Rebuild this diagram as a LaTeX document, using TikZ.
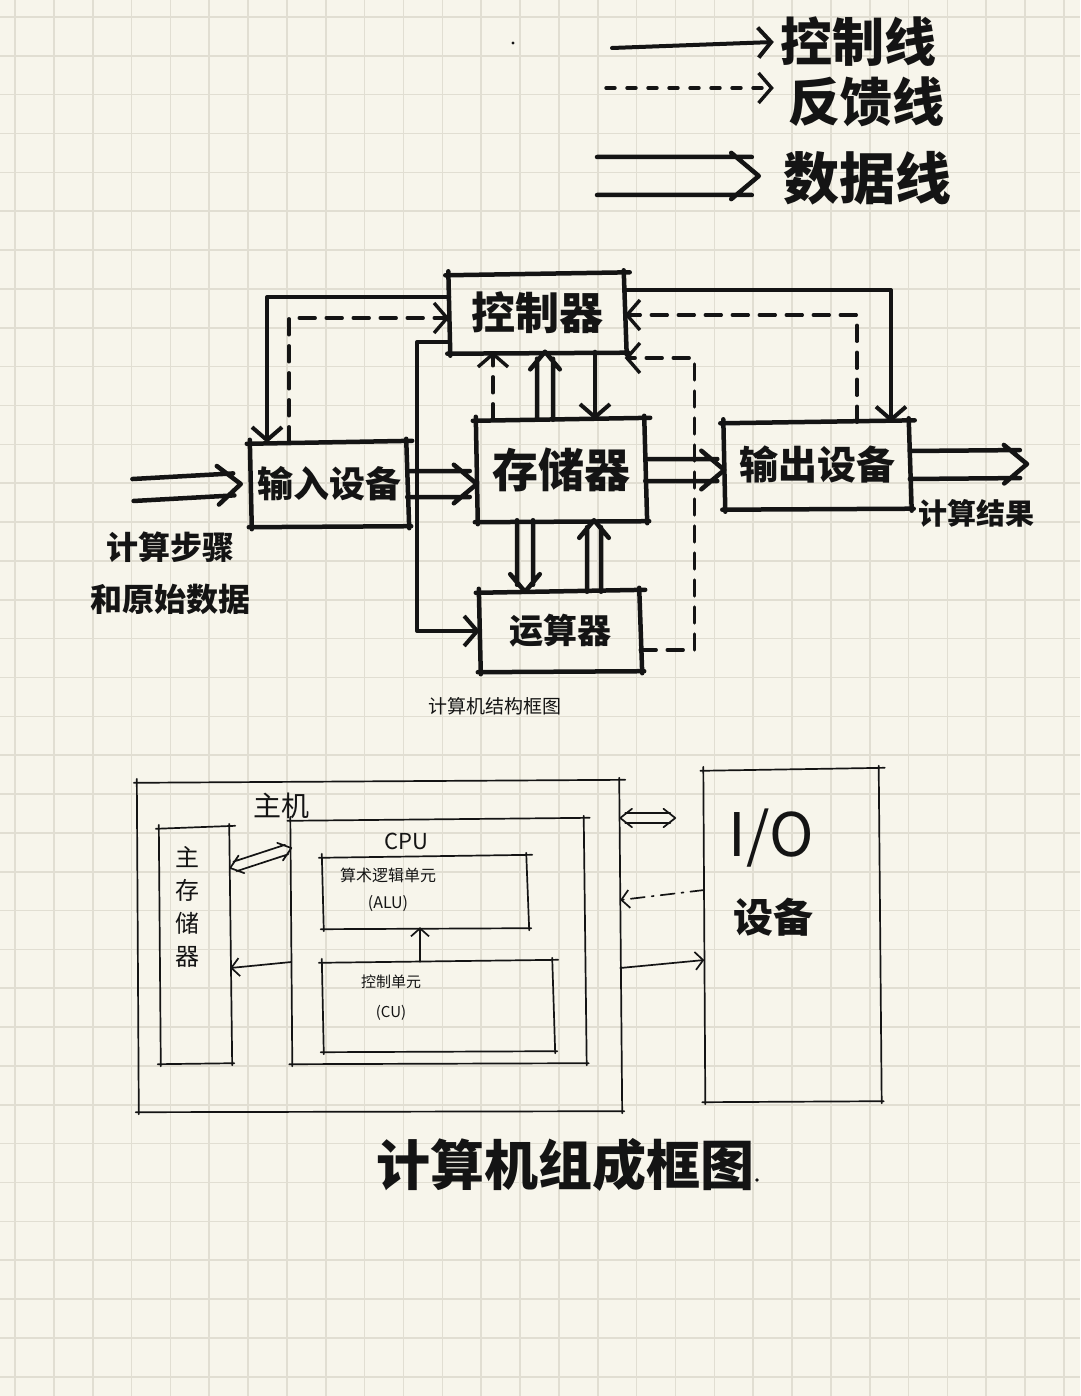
\documentclass[tikz,border=0pt]{standalone}
\usepackage{fontspec}
\newfontfamily\cjk{Noto Sans CJK SC}
\usetikzlibrary{calc,arrows.meta}
\definecolor{paper}{HTML}{F7F5EB}
\definecolor{gridc}{HTML}{E1DED2}
\definecolor{ink}{HTML}{141414}
\newcommand\fsz[2]{\fontsize{#1}{#2}\selectfont}

\tikzset{
  every node/.style={inner sep=0pt, text=ink},
  da head/.store in=\dahead, da head=30pt,
  inkthick/.style={draw=ink, line width=4.5pt, line cap=round, line join=round},
  inkfine/.style={draw=ink, line width=1.7pt, line cap=round, line join=round},
  % single control line with open head
  ctl/.style={inkthick, line width=4pt, -{Straight Barb[length=13pt,width=30pt]}},
  % feedback line, dashed
  fb/.style={inkthick, line width=3.4pt, dash pattern=on 16pt off 11pt,
             -{Straight Barb[length=13pt,width=30pt]}},
  finearrow/.style={inkfine, -{Straight Barb[length=8pt,width=18pt]}},
  finedash/.style={inkfine, dash pattern=on 14pt off 7pt on 2pt off 7pt,
             -{Straight Barb[length=8pt,width=18pt]}},
  % two parallel strokes ending in an open head
  dataarrow/.style={to path={
      ($(\tikztotarget)!7pt!(\tikztostart)$) coordinate (dae)
      ($(\tikztostart)!#1!90:(\tikztotarget)$) -- ($(dae)!#1!-90:(\tikztostart)$)
      ($(\tikztostart)!#1!-90:(\tikztotarget)$) -- ($(dae)!#1!90:(\tikztostart)$)
      ($(\tikztotarget)!\dahead!40:(\tikztostart)$) -- (\tikztotarget)
        -- ($(\tikztotarget)!\dahead!-40:(\tikztostart)$)
  }},
  dataarrow/.default=11pt,
  % two parallel strokes with open heads at both ends
  databoth/.style={to path={
      ($(\tikztostart)!5pt!(\tikztotarget)$) coordinate (dbs)
      ($(\tikztotarget)!5pt!(\tikztostart)$) coordinate (dbe)
      ($(dbs)!#1!90:(dbe)$) -- ($(dbe)!#1!-90:(dbs)$)
      ($(dbs)!#1!-90:(dbe)$) -- ($(dbe)!#1!90:(dbs)$)
      ($(\tikztotarget)!\dahead!38:(\tikztostart)$) -- (\tikztotarget)
        -- ($(\tikztotarget)!\dahead!-38:(\tikztostart)$)
      ($(\tikztostart)!\dahead!38:(\tikztotarget)$) -- (\tikztostart)
        -- ($(\tikztostart)!\dahead!-38:(\tikztotarget)$)
  }},
  databoth/.default=5pt,
  % box drawn as four loose pen strokes
  sketchbox/.style={append after command={
      ($(\tikzlastnode.north west)+(-4,1)$) edge[#1] ($(\tikzlastnode.north east)+(5,-2)$)
      ($(\tikzlastnode.north east)+(-1,-4)$) edge[#1] ($(\tikzlastnode.south east)+(2,3)$)
      ($(\tikzlastnode.south east)+(4,1)$) edge[#1] ($(\tikzlastnode.south west)+(-2,2)$)
      ($(\tikzlastnode.south west)+(1,4)$) edge[#1] ($(\tikzlastnode.north west)+(-1,-3)$)
  }},
  tbox/.style={sketchbox=inkthick},
  bbox/.style={sketchbox=inkfine},
  bold/.style={font={\cjk\bfseries\fsz{#1}{#1}}},
  light/.style={font={\cjk\fsz{#1}{#1}}},
}

\begin{document}
\begin{tikzpicture}[x=1pt,y=-1pt]
\useasboundingbox (0,0) rectangle (1080,1396);

% grid paper
\fill[paper] (0,0) rectangle (1080,1396);
\foreach \i in {0,...,27}
  \draw[gridc, line width=1.6pt] ({15+38.85*\i},0) -- ({15+38.85*\i},1396);
\foreach \j in {0,...,35}
  \draw[gridc, line width=1.6pt] (0,{17+38.85*\j}) -- (1080,{17+38.85*\j});

% ---------- legend ----------
\node[bold=52] (lgctl) at (858,42) {控制线};
\node[bold=52] (lgfb)  at (866,102) {反馈线};
\node[bold=56] (lgdat) at (867,178) {数据线};
\coordinate (lgs1) at (612,48);
\coordinate (lgs2) at (606,88);
\coordinate (lgs3) at (597,176);
\draw[ctl] (lgs1) -- ([xshift=-6pt]lgctl.west);
\draw[fb, dash pattern=on 9pt off 12pt] (lgs2) -- ([xshift=-14pt]lgfb.west |- lgs2);
\draw[inkthick, da head=36pt] (lgs3) to[dataarrow=19pt] ([xshift=-24pt]lgdat.west |- lgs3);
\fill[ink] (513,43) circle (1.6);

% ---------- structure diagram ----------
\node[tbox, bold=44, minimum width=175pt, minimum height=77pt]  (ctrl) at (537,313) {控制器};
\node[tbox, bold=36, minimum width=156pt, minimum height=82pt]  (in)   at (329,484) {输入设备};
\node[tbox, bold=46, minimum width=168pt, minimum height=100pt] (mem)  at (561,470) {存储器};
\node[tbox, bold=39, minimum width=185pt, minimum height=85pt]  (out)  at (817,465) {输出设备};
\node[tbox, bold=34, minimum width=160pt, minimum height=78pt]  (alu)  at (560,631) {运算器};

\node[align=center, font={\cjk\bfseries\fsz{32}{52}}] (srclbl) at (170,573) {计算步骤\\和原始数据};
\node[bold=29] (reslbl) at (976,513) {计算结果};
\node[light=19] (cap1) at (495,706) {计算机结构框图};

% data flow
\coordinate (srcpt) at (133,490);
\coordinate (respt) at (1027,464);
\draw[inkthick] (srcpt) to[dataarrow=11pt] ([xshift=-10pt]in.west);
\draw[inkthick] (in.east) to[dataarrow=13pt] (in.east -| mem.west);
\draw[inkthick] (mem.east) to[dataarrow=11pt] (mem.east -| out.west);
\draw[inkthick] (out.east) to[dataarrow=14pt] (respt);
\draw[inkthick, da head=23pt] ([xshift=-36pt]mem.south) to[dataarrow=8pt] ([xshift=-36pt]mem.south |- alu.north);
\draw[inkthick, da head=23pt] ([xshift=34pt]alu.north) to[dataarrow=7pt] ([xshift=34pt]alu.north |- mem.south);
\draw[inkthick, da head=23pt] ([xshift=-16pt]mem.north) to[dataarrow=8pt] ([xshift=-16pt]mem.north |- ctrl.south);

% control
\draw[ctl] ([xshift=58pt]ctrl.south) -- ([xshift=58pt]ctrl.south |- mem.north);
\draw[ctl] ([yshift=16pt]ctrl.west) -| ([xshift=-62pt]in.north);
\draw[ctl] ([yshift=-29pt]ctrl.west) -- ++(-32,0) |- (alu.west);
\draw[ctl] ([yshift=23pt]ctrl.east) -| ([xshift=74pt]out.north);

% feedback
\draw[fb] ([xshift=-68pt]mem.north) -- ([xshift=-68pt]mem.north |- ctrl.south);
\draw[fb] ([xshift=-40pt]in.north) |- ([yshift=-5pt]ctrl.west);
\draw[fb] ([xshift=40pt]out.north) |- ([yshift=-2pt]ctrl.east);
\draw[fb] ([yshift=-19pt]alu.east) -- ++(54,0) |- ([yshift=-45pt]ctrl.east);

% ---------- composition diagram ----------
\node[bbox, minimum width=482pt, minimum height=328pt] (host) at (379,946) {};
\node[light=28] (hostlbl) at (281,806) {主机};
\node[bbox, minimum width=70pt, minimum height=234pt] (mm) at (195,945) {};
\node[align=center, font={\cjk\fsz{24}{33}}] (mmlbl) at (187,907) {主\\存\\储\\器};
\node[bbox, minimum width=293pt, minimum height=242pt] (cpu) at (438,941) {};
\node[light=22] (cpulbl) at (406,841) {CPU};
\node[bbox, minimum width=204pt, minimum height=70pt] (alub) at (425,892) {};
\node[align=center, font={\cjk\fsz{16}{27}}] (alulbl) at (388,890) {算术逻辑单元\\(ALU)};
\node[bbox, minimum width=230pt, minimum height=88pt] (cub) at (438,1006) {};
\node[align=center, font={\cjk\fsz{15}{30}}] (culbl) at (391,998) {控制单元\\(CU)};
\node[bbox, minimum width=175pt, minimum height=330pt] (io) at (792,935) {};
\node[light=60] (iolbl) at (771,838) {I/O};
\node[bold=40] (devlbl) at (773,917) {设备};
\node[bold=54] (cap2) at (565,1165) {计算机组成框图};
\fill[ink] (757,1180) circle (1.8);

\draw[finearrow] ([xshift=-18pt]cub.north) -- ([xshift=-18pt]cub.north |- alub.south);
\draw[inkfine, da head=15pt] ([yshift=77pt]mm.east) to[databoth=5pt] ([yshift=93pt]cpu.west);
\draw[finearrow] ([yshift=-21pt]cpu.west) -- ([yshift=-23pt]mm.east);
\draw[inkfine, da head=15pt] ([yshift=128pt]host.east) to[databoth=5pt] ([xshift=-29pt,yshift=117pt]io.west);
\draw[finedash] ([yshift=45pt]io.west) -- ([yshift=46pt]host.east);
\draw[finearrow] ([yshift=-22pt]host.east) -- ([yshift=-25pt]io.west);
\end{tikzpicture}
\end{document}
